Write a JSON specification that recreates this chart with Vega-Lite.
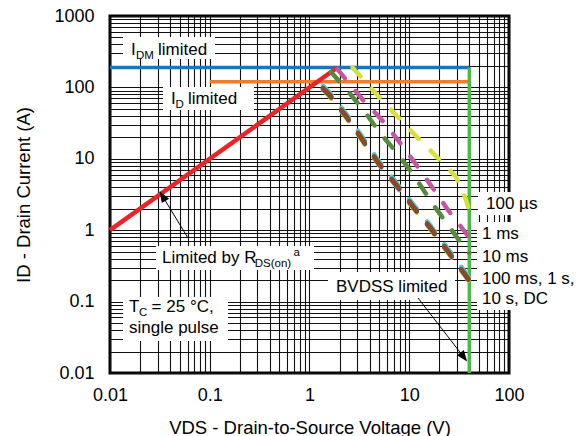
{
  "$schema": "https://vega.github.io/schema/vega-lite/v6.json",
  "width": 399,
  "height": 357,
  "autosize": {"type": "none"},
  "padding": {"left": 110, "top": 16, "right": 71, "bottom": 63},
  "config": {
    "font": "Liberation Sans",
    "view": {"stroke": "#000", "strokeWidth": 3},
    "axis": {
      "grid": true, "gridColor": "#111", "gridWidth": 1.1, "gridOpacity": 1,
      "ticks": false, "tickSize": 0, "domain": false,
      "labelFont": "Liberation Sans", "labelFontSize": 18, "labelColor": "#000",
      "titleFont": "Liberation Sans", "titleFontSize": 18.5, "titleFontWeight": "normal", "titleColor": "#000",
      "labelOverlap": false, "labelFlush": false, "labelBound": false
    }
  },
  "datasets": {
    "boxes": [
      {"x": 0.0135, "x2": 0.1129, "y": 507.8, "y2": 249.9},
      {"x": 0.03399, "x2": 0.2777, "y": 101.3, "y2": 48.26},
      {"x": 0.02892, "x2": 1.109, "y": 0.6007, "y2": 0.2771},
      {"x": 0.0135, "x2": 0.1524, "y": 0.116, "y2": 0.02806},
      {"x": 1.533, "x2": 28.74, "y": 0.2598, "y2": 0.1053},
      {"x": 48.9, "x2": 204.6, "y": 3.428, "y2": 1.633},
      {"x": 47.78, "x2": 515, "y": 1.302, "y2": 0.07625}
    ],
    "segs": [
      {"s": "IDM", "x": 0.01, "y": 190, "x2": 40, "y2": 190},
      {"s": "ID", "x": 0.1, "y": 120, "x2": 40, "y2": 120},
      {"s": "BV", "x": 40, "y": 0.01, "x2": 40, "y2": 190}
    ],
    "red": [
      {"x": 0.01, "y": 1, "x2": 1.9, "y2": 190}
    ],
    "curves": [
      {"s": "us100", "x": 2.7, "y": 190},
      {"s": "us100", "x": 4.97, "y": 73.4},
      {"s": "us100", "x": 7.71, "y": 38.5},
      {"s": "us100", "x": 11.96, "y": 20.2},
      {"s": "us100", "x": 18.97, "y": 10.6},
      {"s": "us100", "x": 23.35, "y": 7.93},
      {"s": "us100", "x": 29.4, "y": 5.56},
      {"s": "us100", "x": 33.8, "y": 3.78},
      {"s": "us100", "x": 37.07, "y": 2.65},
      {"s": "us100", "x": 40, "y": 1.86},
      {"s": "ms1", "x": 1.9, "y": 180},
      {"s": "ms1", "x": 3.44, "y": 66.6},
      {"s": "ms1", "x": 5.33, "y": 34.9},
      {"s": "ms1", "x": 7.71, "y": 18.3},
      {"s": "ms1", "x": 11.42, "y": 8.73},
      {"s": "ms1", "x": 16.91, "y": 4.03},
      {"s": "ms1", "x": 24.46, "y": 1.92},
      {"s": "ms1", "x": 36.2, "y": 0.944},
      {"s": "ms1", "x": 40, "y": 0.778},
      {"s": "ms10", "x": 1.643, "y": 164},
      {"s": "ms10", "x": 2.376, "y": 91.9},
      {"s": "ms10", "x": 3.6, "y": 45.2},
      {"s": "ms10", "x": 5.09, "y": 23.0},
      {"s": "ms10", "x": 7.54, "y": 12.06},
      {"s": "ms10", "x": 11.42, "y": 5.56},
      {"s": "ms10", "x": 16.91, "y": 2.4},
      {"s": "ms10", "x": 24.46, "y": 1.18},
      {"s": "ms10", "x": 35.4, "y": 0.582},
      {"s": "ms10", "x": 40, "y": 0.479},
      {"s": "dc_cyan", "x": 1.366, "y": 105},
      {"s": "dc_cyan", "x": 1.605, "y": 83.8},
      {"s": "dc_cyan", "x": 2.376, "y": 41.2},
      {"s": "dc_cyan", "x": 3.44, "y": 19.6},
      {"s": "dc_cyan", "x": 4.86, "y": 9.65},
      {"s": "dc_cyan", "x": 7.2, "y": 4.9},
      {"s": "dc_cyan", "x": 10.9, "y": 2.33},
      {"s": "dc_cyan", "x": 16.15, "y": 1.187},
      {"s": "dc_cyan", "x": 24.46, "y": 0.547},
      {"s": "dc_cyan", "x": 36.2, "y": 0.2605},
      {"s": "dc_cyan", "x": 40, "y": 0.2146},
      {"s": "dc_gold", "x": 1.366, "y": 92.2},
      {"s": "dc_gold", "x": 1.605, "y": 73.6},
      {"s": "dc_gold", "x": 2.376, "y": 36.2},
      {"s": "dc_gold", "x": 3.44, "y": 17.2},
      {"s": "dc_gold", "x": 4.86, "y": 8.48},
      {"s": "dc_gold", "x": 7.2, "y": 4.31},
      {"s": "dc_gold", "x": 10.9, "y": 2.05},
      {"s": "dc_gold", "x": 16.15, "y": 1.042},
      {"s": "dc_gold", "x": 24.46, "y": 0.48},
      {"s": "dc_gold", "x": 36.2, "y": 0.2289},
      {"s": "dc_gold", "x": 40, "y": 0.1886},
      {"s": "dc_blue", "x": 1.366, "y": 95.2},
      {"s": "dc_blue", "x": 1.605, "y": 76.0},
      {"s": "dc_blue", "x": 2.376, "y": 37.3},
      {"s": "dc_blue", "x": 3.44, "y": 17.75},
      {"s": "dc_blue", "x": 4.86, "y": 8.75},
      {"s": "dc_blue", "x": 7.2, "y": 4.44},
      {"s": "dc_blue", "x": 10.9, "y": 2.115},
      {"s": "dc_blue", "x": 16.15, "y": 1.076},
      {"s": "dc_blue", "x": 24.46, "y": 0.496},
      {"s": "dc_blue", "x": 36.2, "y": 0.2362},
      {"s": "dc_blue", "x": 40, "y": 0.1946},
      {"s": "dc_brown", "x": 1.366, "y": 98.1},
      {"s": "dc_brown", "x": 1.605, "y": 78.3},
      {"s": "dc_brown", "x": 2.376, "y": 38.5},
      {"s": "dc_brown", "x": 3.44, "y": 18.3},
      {"s": "dc_brown", "x": 4.86, "y": 9.02},
      {"s": "dc_brown", "x": 7.2, "y": 4.58},
      {"s": "dc_brown", "x": 10.9, "y": 2.18},
      {"s": "dc_brown", "x": 16.15, "y": 1.109},
      {"s": "dc_brown", "x": 24.46, "y": 0.511},
      {"s": "dc_brown", "x": 36.2, "y": 0.2435},
      {"s": "dc_brown", "x": 40, "y": 0.2006}
    ],
    "arrows": [
      {"x": 0.0605, "y": 0.778, "x2": 0.03391, "y2": 2.946},
      {"x": 12.24, "y": 0.1123, "x2": 34.9, "y2": 0.01697}
    ],
    "head1": [{"x": 0.03391, "y": 2.946}],
    "head2": [{"x": 34.9, "y": 0.01697}],
    "mainText": [
      {"t": "I", "x": 0.01623, "y": 284.3},
      {"t": "limited", "x": 0.03029, "y": 284.3},
      {"t": "I", "x": 0.04088, "y": 58.55},
      {"t": "limited", "x": 0.06053, "y": 58.55},
      {"t": "Limited by R", "x": 0.03321, "y": 0.3472},
      {"t": "T", "x": 0.01551, "y": 0.07151},
      {"t": "= 25 °C,", "x": 0.02612, "y": 0.07151},
      {"t": "single pulse", "x": 0.01551, "y": 0.03633},
      {"t": "BVDSS limited", "x": 1.844, "y": 0.1363},
      {"t": "100 µs", "x": 58.82, "y": 1.981},
      {"t": "1 ms", "x": 53.6, "y": 0.7527},
      {"t": "10 ms", "x": 53.6, "y": 0.3585},
      {"t": "100 ms, 1 s,", "x": 53.6, "y": 0.1764},
      {"t": "10 s, DC", "x": 53.6, "y": 0.09256}
    ],
    "subText": [
      {"t": "DM", "x": 0.01823, "y": 249.9},
      {"t": "D", "x": 0.04534, "y": 51.45},
      {"t": "DS(on)", "x": 0.2825, "y": 0.3052},
      {"t": "C", "x": 0.01953, "y": 0.06284}
    ],
    "supText": [
      {"t": "a", "x": 0.69, "y": 0.4352}
    ]
  },
  "encoding": {
    "x": {
      "field": "x", "type": "quantitative",
      "scale": {"type": "log", "domain": [0.01, 100], "nice": false},
      "axis": {
        "title": "VDS - Drain-to-Source Voltage (V)",
        "values": [0.01, 0.02, 0.03, 0.04, 0.05, 0.06, 0.07, 0.08, 0.09, 0.1, 0.2, 0.3, 0.4, 0.5, 0.6, 0.7, 0.8, 0.9, 1, 2, 3, 4, 5, 6, 7, 8, 9, 10, 20, 30, 40, 50, 60, 70, 80, 90, 100],
        "labelExpr": "indexof(['0.01','0.1','1','10','100','1000'], '' + datum.value) >= 0 ? '' + datum.value : ''",
        "labelPadding": 13, "titlePadding": 14
      }
    },
    "y": {
      "field": "y", "type": "quantitative",
      "scale": {"type": "log", "domain": [0.01, 1000], "nice": false},
      "axis": {
        "title": "ID - Drain Current (A)",
        "values": [0.01, 0.02, 0.03, 0.04, 0.05, 0.06, 0.07, 0.08, 0.09, 0.1, 0.2, 0.3, 0.4, 0.5, 0.6, 0.7, 0.8, 0.9, 1, 2, 3, 4, 5, 6, 7, 8, 9, 10, 20, 30, 40, 50, 60, 70, 80, 90, 100, 200, 300, 400, 500, 600, 700, 800, 900, 1000],
        "labelExpr": "indexof(['0.01','0.1','1','10','100','1000'], '' + datum.value) >= 0 ? '' + datum.value : ''",
        "labelPadding": 16, "titlePadding": 20
      }
    }
  },
  "layer": [
    {
      "data": {"name": "boxes"},
      "mark": {"type": "rect", "color": "#ffffff"},
      "encoding": {"x2": {"field": "x2"}, "y2": {"field": "y2"}}
    },
    {
      "data": {"name": "segs"},
      "mark": {"type": "rule", "strokeWidth": 3.5},
      "encoding": {
        "x2": {"field": "x2"}, "y2": {"field": "y2"},
        "color": {
          "field": "s", "type": "nominal", "legend": null,
          "scale": {
            "domain": ["IDM", "ID", "BV", "us100", "ms1", "ms10", "dc_cyan", "dc_gold", "dc_blue", "dc_brown"],
            "range": ["#1b75b9", "#f47b2b", "#4cb848", "#d8e03c", "#c4589f", "#568b3d", "#55c4d8", "#f2c20f", "#2c52a0", "#8b4a23"]
          }
        }
      }
    },
    {
      "data": {"name": "red"},
      "mark": {"type": "rule", "strokeWidth": 4.5, "color": "#ec2326"},
      "encoding": {"x2": {"field": "x2"}, "y2": {"field": "y2"}}
    },
    {
      "data": {"name": "curves"},
      "mark": {"type": "line", "strokeWidth": 4.5, "strokeDash": [12, 16.5], "strokeCap": "round"},
      "encoding": {
        "color": {
          "field": "s", "type": "nominal", "legend": null,
          "scale": {
            "domain": ["IDM", "ID", "BV", "us100", "ms1", "ms10", "dc_cyan", "dc_gold", "dc_blue", "dc_brown"],
            "range": ["#1b75b9", "#f47b2b", "#4cb848", "#d8e03c", "#c4589f", "#568b3d", "#55c4d8", "#f2c20f", "#2c52a0", "#8b4a23"]
          }
        }
      }
    },
    {
      "data": {"name": "arrows"},
      "mark": {"type": "rule", "strokeWidth": 1, "color": "#000"},
      "encoding": {"x2": {"field": "x2"}, "y2": {"field": "y2"}}
    },
    {
      "data": {"name": "head1"},
      "mark": {"type": "point", "shape": "M0,-1L0.7,0.8L-0.7,0.8Z", "filled": true, "color": "#000", "opacity": 1, "size": 150, "angle": 328.7}
    },
    {
      "data": {"name": "head2"},
      "mark": {"type": "point", "shape": "M0,-1L0.7,0.8L-0.7,0.8Z", "filled": true, "color": "#000", "opacity": 1, "size": 150, "angle": 142.6}
    },
    {
      "data": {"name": "mainText"},
      "mark": {"type": "text", "align": "left", "baseline": "alphabetic", "fontSize": 17, "color": "#000", "font": "Liberation Sans"},
      "encoding": {"text": {"field": "t"}}
    },
    {
      "data": {"name": "subText"},
      "mark": {"type": "text", "align": "left", "baseline": "alphabetic", "fontSize": 11.5, "color": "#000", "font": "Liberation Sans"},
      "encoding": {"text": {"field": "t"}}
    },
    {
      "data": {"name": "supText"},
      "mark": {"type": "text", "align": "left", "baseline": "alphabetic", "fontSize": 11.5, "color": "#000", "font": "Liberation Sans"},
      "encoding": {"text": {"field": "t"}}
    }
  ]
}
